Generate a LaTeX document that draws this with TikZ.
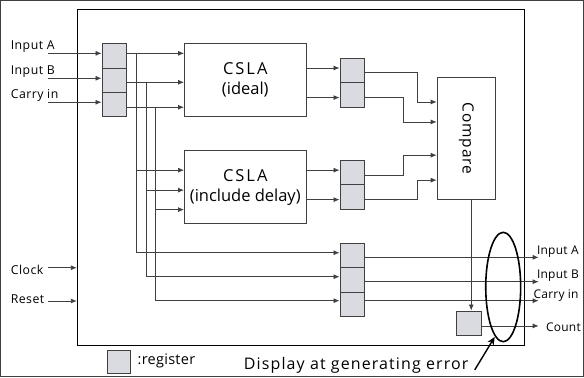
\documentclass[tikz,border=0pt]{standalone}
\usepackage{fontspec}
\setmainfont{Open Sans}
\usetikzlibrary{arrows.meta,shapes.geometric}
\definecolor{regfill}{HTML}{D9DBE0}
\definecolor{linec}{HTML}{404040}
\begin{document}
\begin{tikzpicture}[x=1pt,y=-1pt,
  line width=0.8pt,
  every path/.style={draw=linec},
  reg/.style={draw=linec,fill=regfill,minimum width=24.3pt,minimum height=24.3pt,inner sep=0pt,line width=0.9pt},
  blk/.style={draw=linec,fill=white,inner sep=0pt,line width=0.9pt,align=center},
  arr/.style={-{Latex[length=6pt,width=5pt]}},
  lbl/.style={font=\fontsize{12.3}{13}\selectfont\addfontfeatures{LetterSpace=4},inner sep=0pt,anchor=west,text=black},
  rlbl/.style={font=\fontsize{12}{13}\selectfont\addfontfeatures{LetterSpace=2},inner sep=0pt,anchor=west,text=black},
  big/.style={font=\fontsize{16.5}{20}\selectfont}
]
\useasboundingbox (0,0) rectangle (584,377);
% outer box
\node[draw=black,line width=0.9pt,minimum width=448pt,minimum height=336.5pt,inner sep=0pt] (outer) at (301,177.75) {};
% input registers
\node[reg] (r1) at (113.9,55.5) {};
\node[reg] (r2) at (113.9,79.8) {};
\node[reg] (r3) at (113.9,104.1) {};
% CSLA blocks
\node[blk,minimum width=121.7pt,minimum height=73.4pt,big] (c1) at (245.2,80) {\addfontfeatures{LetterSpace=12}CSLA\\(ideal)};
\node[blk,minimum width=121.7pt,minimum height=72.6pt,big] (c2) at (245.2,187) {\addfontfeatures{LetterSpace=12}CSLA\\(include delay)};
% middle registers
\node[reg] (m1) at (352.2,70.4) {};
\node[reg] (m2) at (352.2,94.6) {};
\node[reg] (d1) at (352.2,172.5) {};
\node[reg] (d2) at (352.2,196.8) {};
% compare
\node[blk,minimum width=58.7pt,minimum height=122pt] (cmp) at (466.7,138.3) {\rotatebox{-90}{\fontsize{15.5}{17}\selectfont\addfontfeatures{LetterSpace=6}Compare}};
% lower registers
\node[reg] (l1) at (352.2,255.5) {};
\node[reg] (l2) at (352.2,279.8) {};
\node[reg] (l3) at (352.2,304.1) {};
% error register
\node[reg,minimum width=25pt,minimum height=25pt] (er) at (469.2,323.5) {};

% input labels and arrows
\node[lbl] (tA) at (10,46) {Input A};
\node[lbl] (tB) at (10,71) {Input B};
\node[lbl] (tC) at (10,95.5) {Carry in};
\coordinate (iA) at (48,53);
\coordinate (iB) at (48,78);
\coordinate (iC) at (48,102);
\draw[arr] (iA) -- (iA -| r1.west);
\draw[arr] (iB) -- (iB -| r2.west);
\draw[arr] (iC) -- (iC -| r3.west);

\node[lbl] (tclk) at (10,270) {Clock};
\node[lbl] (trst) at (10,299.5) {Reset};
\coordinate (iclk) at (48,267.7);
\coordinate (irst) at (48,301);
\draw[arr] (iclk) -- (iclk -| outer.west);
\draw[arr] (irst) -- (irst -| outer.west);

% input reg outputs to CSLA ideal
\coordinate (oA) at (126,53);
\coordinate (oB) at (126,82);
\coordinate (oC) at (126,107);
\draw[arr] (oA -| r1.east) -- (oA -| c1.west);
\draw[arr] (oB -| r2.east) -- (oB -| c1.west);
\draw[arr] (oC -| r3.east) -- (oC -| c1.west);

% branches
\coordinate (bA) at (135.7,53);
\coordinate (bB) at (145.7,82);
\coordinate (bC) at (155.3,107);
\draw (bA) -- (135.7,252.7);
\draw (bB) -- (145.7,276.7);
\draw (bC) -- (155.3,300.7);
\draw[arr] (135.7,170) -- (c2.west |- 0,170);
\draw[arr] (145.7,190) -- (c2.west |- 0,190);
\draw[arr] (155.3,209.5) -- (c2.west |- 0,209.5);
\draw[arr] (135.7,252.7) -- (l1.west |- 0,252.7);
\draw[arr] (145.7,276.7) -- (l2.west |- 0,276.7);
\draw[arr] (155.3,300.7) -- (l3.west |- 0,300.7);

% CSLA outputs to registers
\draw[arr] (c1.east |- 0,67.7) -- (m1.west |- 0,67.7);
\draw[arr] (c1.east |- 0,97.3) -- (m2.west |- 0,97.3);
\draw[arr] (c2.east |- 0,170) -- (d1.west |- 0,170);
\draw[arr] (c2.east |- 0,199.5) -- (d2.west |- 0,199.5);

% registers to compare
\draw[arr] (m1.east |- 0,72.3) -- (417.7,72.3) -- (417.7,101.7) -- (cmp.west |- 0,101.7);
\draw[arr] (m2.east |- 0,97.3) -- (403.3,97.3) -- (403.3,121.7) -- (cmp.west |- 0,121.7);
\draw[arr] (d1.east |- 0,175) -- (403.3,175) -- (403.3,155) -- (cmp.west |- 0,155);
\draw[arr] (d2.east |- 0,199.3) -- (417.7,199.3) -- (417.7,180) -- (cmp.west |- 0,180);

% compare to error register
\draw[arr] (cmp.south -| 471.5,0) -- (er.north -| 471.5,0);

% lower register outputs
\coordinate (eA) at (539,257.3);
\coordinate (eB) at (539,281.7);
\coordinate (eC) at (539,300.7);
\coordinate (eN) at (539,326);
\draw[arr] (eA -| l1.east) -- (eA);
\draw[arr] (eB -| l2.east) -- (eB);
\draw[arr] (eC -| l3.east) -- (eC);
\draw[arr] (eN -| er.east) -- (eN);
\node[rlbl] (oLA) at (537,251.5) {Input A};
\node[rlbl] (oLB) at (537,276) {Input B};
\node[rlbl] (oLC) at (533.5,295.5) {Carry in};
\node[rlbl] (oLN) at (546,327) {Count};

% ellipse
\node[draw=black,line width=1.6pt,ellipse,minimum width=35pt,minimum height=109.5pt,inner sep=0pt] (ell) at (503.5,287) {};
% legend
\node[reg,minimum width=24pt,minimum height=23.3pt] (lg) at (118.7,362.3) {};
\node[lbl,font=\fontsize{14.5}{16}\selectfont\addfontfeatures{LetterSpace=2}] (lgt) at (137,361.5) {:register};
\node[lbl,font=\fontsize{16}{18}\selectfont\addfontfeatures{LetterSpace=7}] (disp) at (243.5,365) {Display at generating error};
\coordinate (pt) at (475,370);
\draw[draw=black,line width=1.4pt,-{Stealth[length=8pt,width=7pt]}] (pt) -- (495,337);
\end{tikzpicture}
\end{document}
